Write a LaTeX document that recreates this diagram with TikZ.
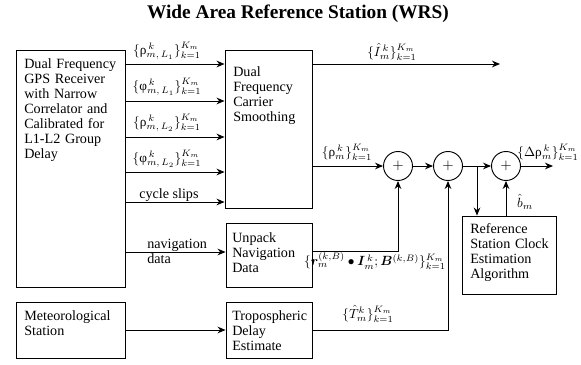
\documentclass[tikz,border=0pt]{standalone}
\usepackage{fontspec}
\setmainfont{Liberation Serif}
\usepackage{amsmath,bm}
\usetikzlibrary{arrows.meta,fit}
\begin{document}
\begin{tikzpicture}[x=0.75pt,y=-0.75pt,
  box/.style={draw,line width=0.7pt,inner sep=0pt},
  txt/.style={font=\fontsize{10.6}{11.25}\selectfont,align=left,inner sep=0pt,anchor=base west},
  lbl/.style={font=\fontsize{10}{12}\selectfont,inner sep=0pt},
  sum/.style={draw,circle,line width=0.7pt,minimum size=21.75pt,inner sep=0pt,font=\fontsize{11}{12}\selectfont},
  arr/.style={line width=0.7pt,-{Stealth[length=6pt,width=5pt]}},
  ln/.style={line width=0.7pt}]

\useasboundingbox (0,0) rectangle (581,364);

% title
\node[font=\bfseries\fontsize{14.5}{17}\selectfont,anchor=base,inner sep=0pt] (title) at (298,18) {Wide Area Reference Station (WRS)};

% blocks
\node[box,fit={(16,50) (125,287)}] (rx) {};
\node[box,fit={(225,50) (312,208)}] (dfcs) {};
\node[box,fit={(226,223) (312,287)}] (nav) {};
\node[box,fit={(16,302) (125,358)}] (met) {};
\node[box,fit={(226,302) (312,358)}] (trop) {};
\node[box,fit={(462,216) (556,294)}] (clk) {};

% block texts
\node[txt,text width=74pt] (rxt) at (24,68) {Dual Frequency\\GPS Receiver\\with Narrow\\Correlator and\\Calibrated for\\L1-L2 Group\\Delay};
\node[txt,text width=58pt] (dfcst) at (233,76) {Dual\\Frequency\\Carrier\\Smoothing};
\node[txt,text width=58pt] (navt) at (232,242) {Unpack\\Navigation\\Data};
\node[txt,text width=74pt] (mett) at (24,320) {Meteorological\\Station};
\node[txt,text width=58pt] (tropt) at (232,320) {Tropospheric\\Delay\\Estimate};
\node[txt,text width=64pt] (clkt) at (470,233) {Reference\\Station Clock\\Estimation\\Algorithm};

% summing junctions
\node[sum] (s1) at (398,166) {$+$};
\node[sum] (s2) at (448,166) {$+$};
\node[sum] (s3) at (506,166) {$+$};

% receiver outputs into the smoother
\draw[arr] (rx.east |- 0,64)  -- (dfcs.west |- 0,64);
\draw[arr] (rx.east |- 0,101) -- (dfcs.west |- 0,101);
\draw[arr] (rx.east |- 0,137) -- (dfcs.west |- 0,137);
\draw[arr] (rx.east |- 0,172) -- (dfcs.west |- 0,172);
\draw[arr] (rx.east |- 0,202) -- (dfcs.west |- 0,202);
\draw[arr] (rx.east |- 0,252) -- (nav.west |- 0,252);
\draw[arr] (met) -- (trop);

\node[lbl,anchor=south] (l1) at (167,60) {$\{\textrm{ρ}^{\,k}_{m,\,L_1}\}^{K_m}_{k=1}$};
\node[lbl,anchor=south] (l2) at (167,96) {$\{\textrm{φ}^{\,k}_{m,\,L_1}\}^{K_m}_{k=1}$};
\node[lbl,anchor=south] (l3) at (167,132) {$\{\textrm{ρ}^{\,k}_{m,\,L_2}\}^{K_m}_{k=1}$};
\node[lbl,anchor=south] (l4) at (167,168) {$\{\textrm{φ}^{\,k}_{m,\,L_2}\}^{K_m}_{k=1}$};
\node[txt] (l5) at (139,198) {cycle slips};
\node[txt,text width=48pt] (l6) at (147,248) {navigation\\data};

% smoother outputs
\coordinate (iend) at (500,64);
\draw[arr] (dfcs.east |- iend) -- (iend);
\node[lbl] (l7) at (392,52) {$\{\hat{I}^{\,k}_m\}^{K_m}_{k=1}$};
\draw[arr] (dfcs.east |- s1) -- (s1);
\node[lbl] (l8) at (347,152) {$\{\textrm{ρ}^{\,k}_m\}^{K_m}_{k=1}$};

% corrections chain
\draw[arr] (s1) -- (s2);
\draw[arr] (s2) -- (s3);
\coordinate (out) at (553,166);
\draw[arr] (s3) -- (out);
\node[lbl] (l9) at (548,152) {$\{\Delta\textrm{ρ}^{\,k}_m\}^{K_m}_{k=1}$};

\coordinate (tap) at (477,166);
\draw[arr] (tap) -- (tap |- clk.north);
\draw[arr] (clk.north -| s3) -- (s3);
\node[lbl] (l10) at (525,202) {$\hat{b}_m$};

\draw[arr] (nav.east |- 0,251) -| (s1);
\node[lbl] (l11) at (375,261) {$\{\bm{r}^{(k,B)}_m\bullet\bm{I}^{\,k}_m;\bm{B}^{(k,B)}\}^{K_m}_{k=1}$};
\draw[arr] (trop.east |- 0,330) -| (s2);
\node[lbl] (l12) at (368,314) {$\{\hat{T}^{k}_m\}^{K_m}_{k=1}$};
\end{tikzpicture}
\end{document}
